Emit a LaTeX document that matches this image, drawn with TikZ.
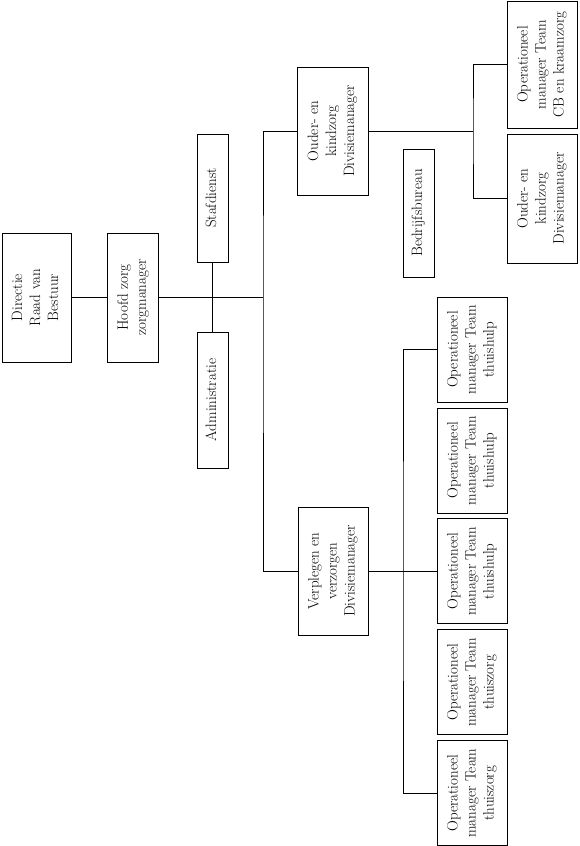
\documentclass[tikz,border=0pt]{standalone}
\usepackage{graphicx}
\usepackage{tikz}
\usetikzlibrary{positioning}

\newcommand{\vtext}[1]{\rotatebox{90}{\begin{tabular}{@{}c@{}}#1\end{tabular}}}

\begin{document}
\begin{tikzpicture}[
  x=1pt, y=-1pt,
  box/.style={rectangle, draw, line width=0.8pt, inner sep=1pt, align=center,
    font=\fontsize{15}{18}\selectfont, minimum width=70pt, minimum height=128pt},
  thinbox/.style={box, minimum width=31pt},
  teambox/.style={box, minimum height=105pt},
  conn/.style={line width=0.8pt}
]
\useasboundingbox (0,0) rectangle (579,846);

% Top
\node[box, minimum width=69pt, minimum height=129pt] (dir) at (36.5,297.5) {\vtext{Directie\\Raad van\\Bestuur}};
\node[box, minimum width=51pt, minimum height=129pt, right=36pt of dir] (hoofd) {\vtext{Hoofd zorg\\zorgmanager}};

% Staff
\node[thinbox] (staf) at (212.5,198) {\vtext{Stafdienst}};
\node[thinbox, minimum height=136pt] (admin) at (212.5,400) {\vtext{Administratie}};

% Divisions
\node[box, minimum width=71pt] (ouder) at (332.5,131) {\vtext{Ouder- en\\kindzorg\\Divisiemanager}};
\node[box] (verpl) at (333,571) {\vtext{Verplegen en\\verzorgen\\Divisiemanager}};
\node[thinbox] (bedrijf) at (418.5,213) {\vtext{Bedrijfsbureau}};

% Ouder- en kindzorg teams
\node[box, minimum height=127pt] (cbteam) at (542,64.5) {\vtext{Operationeel\\manager Team\\CB en kraamzorg}};
\node[box, minimum height=129pt, below=5.2pt of cbteam] (ouder2) {\vtext{Ouder- en\\kindzorg\\Divisiemanager}};

% Verplegen en verzorgen teams
\node[teambox] (thuis1) at (472,349.5) {\vtext{Operationeel\\manager Team\\thuishulp}};
\node[teambox, below=5.1pt of thuis1] (thuis2) {\vtext{Operationeel\\manager Team\\thuishulp}};
\node[teambox, below=5.1pt of thuis2] (thuis3) {\vtext{Operationeel\\manager Team\\thuishulp}};
\node[teambox, below=5.1pt of thuis3] (thuis4) {\vtext{Operationeel\\manager Team\\thuiszorg}};
\node[teambox, below=5.1pt of thuis4] (thuis5) {\vtext{Operationeel\\manager Team\\thuiszorg}};

% Split points
\coordinate (split) at (263,297.5);
\coordinate (split2) at (473,131);
\coordinate (split3) at (403,571);

% Lines
\draw[conn] (dir) -- (hoofd);
\draw[conn] (hoofd) -- (split);
\draw[conn] (staf) -- (admin);
\draw[conn] (ouder.west) -| (split) |- (verpl.west);
\draw[conn] (ouder) -- (split2);
\draw[conn] (cbteam.west) -| (split2) |- (ouder2.west);
\draw[conn] (verpl.east) -- (verpl.east -| thuis3.west);
\draw[conn] (thuis1.west) -| (split3) |- (thuis5.west);

\end{tikzpicture}
\end{document}
